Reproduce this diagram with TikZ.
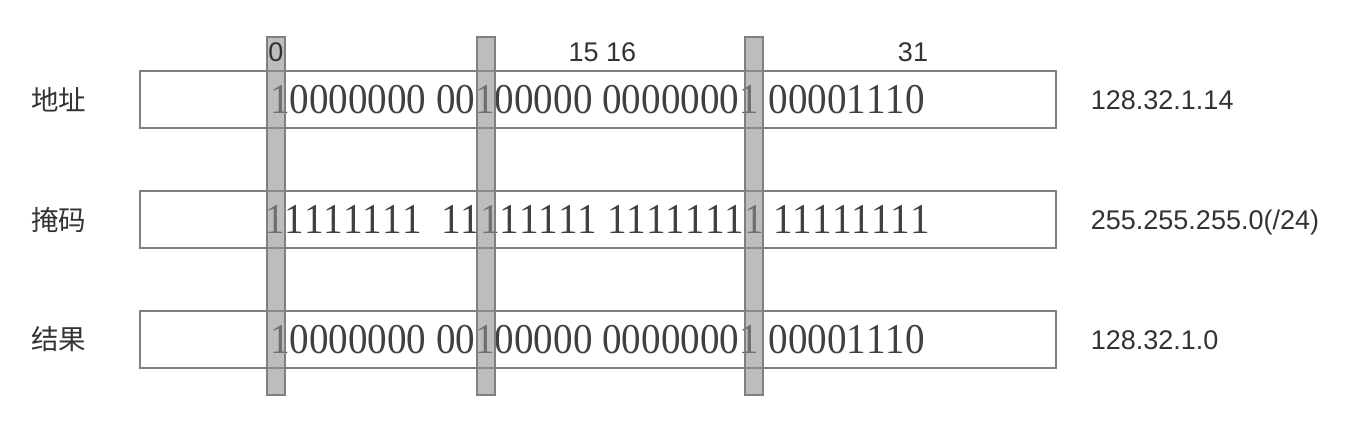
\documentclass[tikz,border=0pt]{standalone}
\usepackage{fontspec}
\newfontfamily\bitfont{Liberation Serif}[FakeStretch=0.92,Kerning=Off]
\newfontfamily\numfont{Liberation Sans}
\newfontfamily\cjk{Noto Sans CJK SC}
\usetikzlibrary{positioning}
\definecolor{linegray}{HTML}{808080}
\definecolor{barfill}{HTML}{919191}
\definecolor{textgray}{HTML}{404040}
\definecolor{labelgray}{HTML}{333333}
\tikzset{%
  rowbox/.style = {rectangle,draw=linegray,line width=1pt,inner sep=0pt,
        minimum width=458pt,minimum height=28.5pt,text=textgray,
        font=\bitfont\fontsize{21.25pt}{25pt}\selectfont},
  bitbar/.style = {rectangle,draw=linegray,line width=1pt,fill=barfill,
        fill opacity=0.6,inner sep=0pt,minimum width=9pt,
        minimum height=179pt},
  bitno/.style = {inner sep=0pt,text=labelgray,text height=0.72em,
        text depth=0pt,font=\numfont\fontsize{13.5pt}{16pt}\selectfont},
  ipval/.style = {bitno,yshift=-1.5pt},
  rowlabel/.style = {inner sep=0pt,text=labelgray,
        font=\cjk\fontsize{13.75pt}{16pt}\selectfont}
}
\begin{document}
\begin{tikzpicture}[x=0.5pt,y=-0.5pt]
    \useasboundingbox (0,0) rectangle (1372,435);
    \node[rowbox] (addr) at (597.5,99.5) {10000000 00100000 00000001 00001110};
    \node[rowbox] (mask) at (597.5,219.5) {11111111\ \ 11111111 11111111 11111111};
    \node[rowbox] (res) at (597.5,339.5) {10000000 00100000 00000001 00001110};
    \node[rowlabel,left=26pt of addr] (addrname) {地址};
    \node[rowlabel,left=26pt of mask] (maskname) {掩码};
    \node[rowlabel,left=26pt of res] (resname) {结果};
    \node[ipval,right=17pt of addr] (addrval) {128.32.1.14};
    \node[ipval,right=17pt of mask] (maskval) {255.255.255.0(/24)};
    \node[ipval,right=17pt of res] (resval) {128.32.1.0};
    \node[bitbar] (barA) at (276,216) {};
    \node[bitbar] (barB) at (486,216) {};
    \node[bitbar] (barC) at (754,216) {};
    \node[bitno] (bit0) at (276,54) {0};
    \node[bitno] (bit1516) at (602.5,54) {15 16};
    \node[bitno] (bit31) at (913,54) {31};
\end{tikzpicture}
\end{document}
